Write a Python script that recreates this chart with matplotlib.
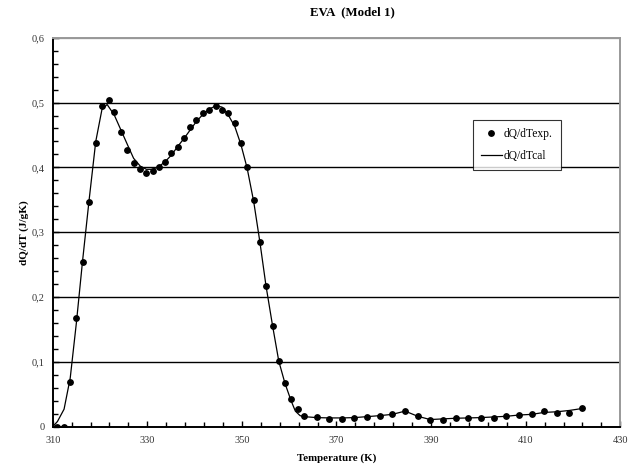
import matplotlib
matplotlib.use("Agg")
import matplotlib.pyplot as plt
from matplotlib.ticker import FixedLocator, MultipleLocator, FuncFormatter

# experimental points
t_exp = [311.0, 312.4, 313.7, 315.0, 316.3, 317.7, 319.1, 320.4, 321.8, 323.0,
         324.4, 325.8, 327.1, 328.5, 329.8, 331.1, 332.4, 333.8, 335.1, 336.4,
         337.8, 339.1, 340.4, 341.8, 343.1, 344.5, 345.8, 347.1, 348.5, 349.8,
         351.1, 352.5, 353.8, 355.1, 356.5, 357.8, 359.1, 360.4, 361.8, 363.1,
         365.8, 368.5, 371.2, 373.8, 376.5, 379.1, 381.8, 384.5, 387.2, 389.8,
         392.5, 395.2, 397.9, 400.5, 403.2, 405.9, 408.6, 411.3, 413.9, 416.6,
         419.2, 421.9]
q_exp = [0.000, 0.000, 0.069, 0.168, 0.254, 0.347, 0.438, 0.494, 0.504, 0.486,
         0.454, 0.427, 0.406, 0.398, 0.392, 0.395, 0.400, 0.408, 0.422, 0.432,
         0.446, 0.462, 0.473, 0.484, 0.489, 0.494, 0.489, 0.484, 0.468, 0.438,
         0.400, 0.350, 0.285, 0.217, 0.155, 0.101, 0.067, 0.043, 0.027, 0.017,
         0.0145, 0.012, 0.012, 0.013, 0.0155, 0.0165, 0.019, 0.024, 0.016, 0.011,
         0.011, 0.013, 0.013, 0.013, 0.013, 0.016, 0.0185, 0.019, 0.024, 0.021,
         0.021, 0.029]

# calculated curve
t_cal = [310.0, 311.0, 312.4, 313.7, 315.0, 316.3, 317.7, 319.1, 320.4, 321.5,
         323.0, 324.4, 325.8, 327.1, 328.5, 329.8, 331.1, 332.4, 333.8, 335.1,
         336.4, 337.8, 339.1, 340.4, 341.8, 343.1, 344.5, 345.8, 347.1, 348.5,
         349.8, 351.1, 352.5, 353.8, 355.1, 356.5, 357.8, 359.1, 360.4, 361.3,
         362.3, 363.1, 365.8, 368.5, 371.2, 373.8, 376.5, 379.1, 381.8, 384.5,
         387.2, 389.8, 392.5, 395.2, 397.9, 400.5, 403.2, 405.9, 408.6, 411.3,
         413.9, 416.6, 419.2, 421.9]
q_cal = [0.000, 0.008, 0.027, 0.075, 0.160, 0.255, 0.350, 0.440, 0.489, 0.497,
         0.481, 0.458, 0.435, 0.414, 0.402, 0.397, 0.397, 0.401, 0.409, 0.419,
         0.432, 0.445, 0.458, 0.471, 0.482, 0.490, 0.495, 0.493, 0.481, 0.463,
         0.435, 0.399, 0.347, 0.285, 0.217, 0.155, 0.101, 0.067, 0.040, 0.024,
         0.017, 0.0155, 0.014, 0.0135, 0.0135, 0.014, 0.0155, 0.017, 0.019, 0.024,
         0.016, 0.011, 0.012, 0.013, 0.0135, 0.014, 0.015, 0.016, 0.018, 0.019,
         0.022, 0.023, 0.025, 0.028]

x_major = [310, 330, 350, 370, 390, 410, 430]
x_minor = list(range(310, 431, 4))

serif = ["Liberation Serif", "DejaVu Serif"]
plt.rcParams['font.family'] = serif

fig = plt.figure(figsize=(6.39, 4.68), dpi=100)
ax = fig.add_axes([0.0825, 0.0883, 0.8882, 0.8311])

for v in [0.1, 0.2, 0.3, 0.4, 0.5]:
    ax.axhline(v, color='black', lw=1.0, zorder=1)
ax.axhline(0.6, color='#777777', lw=1.6, zorder=1)

ax.plot(t_cal, q_cal, color='black', lw=0.9, label='dQ/dTcal', zorder=3)
ax.plot(t_exp, q_exp, 'o', color='black', ms=3.9, label='dQ/dTexp.', zorder=4)

ax.set_xlim(310, 430)
ax.set_ylim(0, 0.6)
ax.xaxis.set_major_locator(FixedLocator(x_major))
ax.xaxis.set_minor_locator(FixedLocator(x_minor))
ax.yaxis.set_major_locator(MultipleLocator(0.1))
ax.yaxis.set_minor_locator(MultipleLocator(0.02))
ax.yaxis.set_major_formatter(FuncFormatter(lambda v, p: ('%.1f' % v).replace('.', ',') if v > 0.001 else '0'))
ax.tick_params(which='both', direction='in', labelsize=7.5, labelcolor='#333333', width=1.0)
ax.tick_params(which='major', length=4)
ax.tick_params(which='minor', length=3.5)
ax.tick_params(axis='x', pad=7)
ax.tick_params(axis='y', pad=6)

for s in ['left', 'bottom']:
    ax.spines[s].set_linewidth(1.4)
    ax.spines[s].set_color('black')
for s in ['top', 'right']:
    ax.spines[s].set_linewidth(1.4)
    ax.spines[s].set_color('#999999')

ax.set_xlabel('Temperature (K)', fontsize=7.8, fontweight='bold', labelpad=6)
ax.set_ylabel('dQ/dT (J/gK)', fontsize=8, fontweight='bold', labelpad=2)
fig.text(0.552, 0.974, 'EVA  (Model 1)', ha='center', va='center', fontsize=9.3, fontweight='bold')

h, l = ax.get_legend_handles_labels()
leg = ax.legend(h[::-1], l[::-1], loc='upper left', bbox_to_anchor=(0.7405, 0.788),
                borderaxespad=0, fontsize=8.3, frameon=True, fancybox=False,
                handlelength=1.8, handletextpad=0.2, borderpad=0.7,
                labelspacing=0.85)
leg.get_frame().set_edgecolor('black')
leg.get_frame().set_linewidth(0.8)

fig.savefig('out.png', dpi=100)
